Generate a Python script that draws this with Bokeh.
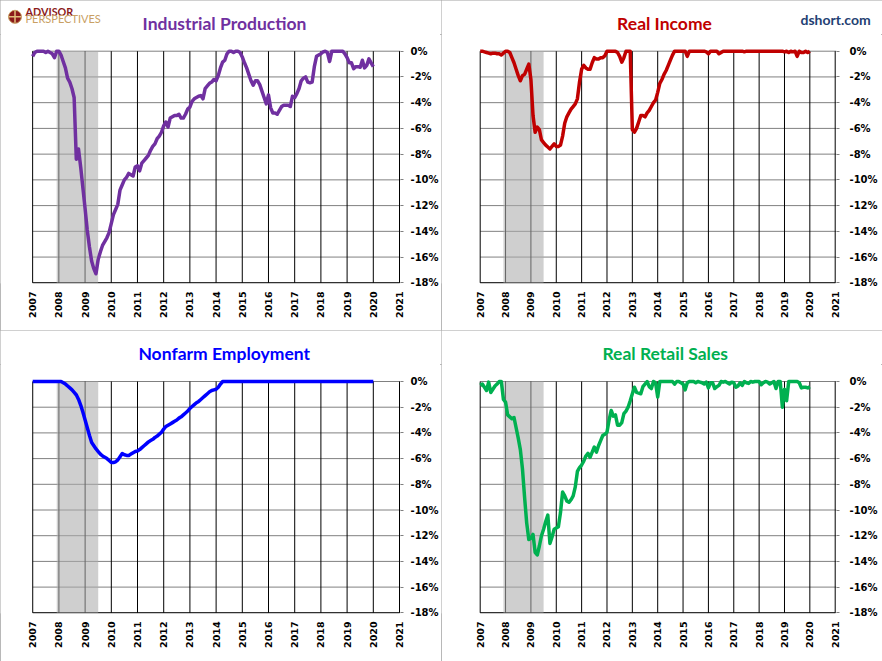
import pandas as pd
from math import pi
from bokeh.plotting import figure
from bokeh.layouts import column, row
from bokeh.models import Range1d, FixedTicker, PrintfTickFormatter
from bokeh.core.properties import value
from bokeh.embed import file_html
from bokeh.resources import INLINE

# ---------------- data (percent off prior peak, monthly Jan 2007 .. Jan 2020) ----------------
months = pd.date_range("2007-01-01", "2020-01-01", freq="MS")
t = list(months.year + (months.month - 1) / 12.0)

industrial_production = [
    -0.4, -0.1, 0.0, 0.0, 0.0, 0.0, -0.1, 0.0, -0.1, -0.2, -0.5, 0.0,
    0.0, -0.3, -0.8, -1.3, -2.1, -2.4, -2.9, -3.6, -8.4, -7.6, -9.0, -10.6,
    -12.2, -13.9, -15.2, -16.3, -16.9, -17.3, -16.2, -15.6, -15.1, -14.8, -14.5, -14.1,
    -13.4, -12.7, -12.3, -11.9, -10.8, -10.4, -10.0, -9.8, -9.5, -9.6, -9.7, -9.0,
    -8.9, -9.3, -8.7, -8.5, -8.3, -8.1, -7.7, -7.4, -7.2, -6.8, -6.6, -6.3,
    -5.8, -5.5, -5.9, -5.2, -5.1, -5.0, -5.0, -4.9, -5.2, -5.2, -4.9, -4.5,
    -4.35, -3.9, -3.7, -3.6, -3.5, -3.45, -3.7, -2.9, -2.7, -2.5, -2.4, -2.2,
    -2.3, -1.9, -1.3, -0.85, -0.7, -0.2, 0.0, 0.0, -0.1, 0.0, 0.0, -0.1,
    -0.45, -0.9, -1.3, -1.8, -2.3, -2.65, -2.3, -2.3, -2.6, -3.1, -3.6, -4.1,
    -3.4, -4.4, -4.8, -4.8, -4.9, -4.6, -4.3, -4.2, -4.2, -4.2, -4.3, -3.5,
    -3.6, -3.3, -2.9, -2.3, -2.1, -2.0, -2.4, -2.45, -2.4, -1.2, -0.4, -0.3,
    -0.2, -0.05, 0.0, -0.1, -0.8, 0.0, 0.0, 0.0, 0.0, 0.0, 0.0, -0.2,
    -0.5, -0.9, -0.9, -1.35, -1.2, -1.2, -1.25, -0.7, -1.3, -1.1, -0.6, -0.9,
    -1.2,
]

real_income = [
    0.0, 0.0, -0.05, -0.1, -0.15, -0.2, -0.15, -0.15, -0.2, -0.2, -0.3, -0.15,
    0.0, 0.0, -0.1, -0.5, -0.9, -1.4, -1.9, -2.3, -1.9, -1.8, -1.4, -1.0,
    -2.2, -5.0, -6.3, -5.9, -6.1, -6.9, -7.1, -7.3, -7.45, -7.6, -7.4, -7.2,
    -7.4, -7.4, -7.3, -6.6, -5.6, -5.1, -4.8, -4.5, -4.3, -4.1, -3.7, -2.4,
    -1.4, -1.1, -1.3, -1.4, -1.4, -0.9, -0.5, -0.6, -0.6, -0.5, -0.5, -0.35,
    0.0, 0.0, 0.0, 0.0, 0.0, -0.1, -0.4, -0.85, -0.5, 0.0, 0.0, 0.0,
    -6.1, -6.3, -6.0, -5.5, -5.0, -5.0, -5.1, -4.8, -4.6, -4.3, -4.0, -3.8,
    -3.2, -2.5, -2.2, -1.8, -1.5, -1.1, -0.7, -0.3, 0.0, 0.0, 0.0, 0.0,
    0.0, 0.0, -0.4, 0.0, 0.0, 0.0, 0.0, 0.0, 0.0, 0.0, 0.0, -0.05,
    -0.2, 0.0, 0.0, 0.0, 0.0, -0.2, -0.1, 0.0, 0.0, 0.0, 0.0, 0.0,
    0.0, 0.0, 0.0, 0.0, 0.0, -0.05, 0.0, 0.0, 0.0, 0.0, 0.0, 0.0,
    0.0, 0.0, 0.0, 0.0, 0.0, 0.0, 0.0, 0.0, 0.0, 0.0, 0.0, 0.0,
    -0.05, 0.0, -0.1, 0.0, -0.05, 0.0, -0.4, 0.0, -0.1, -0.1, 0.0, -0.1,
    0.0,
]

nonfarm_employment = [
    0.0, 0.0, 0.0, 0.0, 0.0, 0.0, 0.0, 0.0, 0.0, 0.0, 0.0, 0.0,
    0.0, 0.0, -0.1, -0.2, -0.35, -0.5, -0.65, -0.85, -1.05, -1.4, -1.85, -2.4,
    -3.0, -3.6, -4.2, -4.75, -5.0, -5.25, -5.45, -5.65, -5.8, -5.9, -6.0, -6.15,
    -6.3, -6.3, -6.25, -6.1, -5.85, -5.6, -5.7, -5.75, -5.75, -5.65, -5.55, -5.45,
    -5.4, -5.3, -5.15, -5.0, -4.85, -4.7, -4.6, -4.5, -4.35, -4.25, -4.1, -3.95,
    -3.7, -3.5, -3.4, -3.3, -3.2, -3.1, -3.0, -2.85, -2.75, -2.6, -2.45, -2.3,
    -2.1, -1.95, -1.8, -1.65, -1.55, -1.4, -1.25, -1.1, -0.95, -0.8, -0.7, -0.65,
    -0.6, -0.45, -0.2, 0.0, 0.0, 0.0, 0.0, 0.0, 0.0, 0.0, 0.0, 0.0,
    0.0, 0.0, 0.0, 0.0, 0.0, 0.0, 0.0, 0.0, 0.0, 0.0, 0.0, 0.0,
    0.0, 0.0, 0.0, 0.0, 0.0, 0.0, 0.0, 0.0, 0.0, 0.0, 0.0, 0.0,
    0.0, 0.0, 0.0, 0.0, 0.0, 0.0, 0.0, 0.0, 0.0, 0.0, 0.0, 0.0,
    0.0, 0.0, 0.0, 0.0, 0.0, 0.0, 0.0, 0.0, 0.0, 0.0, 0.0, 0.0,
    0.0, 0.0, 0.0, 0.0, 0.0, 0.0, 0.0, 0.0, 0.0, 0.0, 0.0, 0.0,
    0.0,
]

real_retail_sales = [
    -0.3, -0.2, -0.45, -0.7, -0.05, -0.85, -0.6, -0.35, -0.2, 0.0, 0.0, -1.4,
    -1.6, -2.6, -2.75, -2.9, -2.8, -3.6, -4.4, -5.3, -6.8, -9.0, -11.0, -12.3,
    -12.2, -11.9, -13.3, -13.5, -12.8, -12.0, -11.5, -10.9, -10.4, -12.6, -12.1, -11.5,
    -11.4, -11.3, -10.2, -8.6, -8.9, -9.3, -9.4, -9.2, -8.9, -8.2, -7.0, -6.7,
    -6.5, -6.2, -5.8, -5.6, -5.9, -5.5, -5.1, -5.5, -5.0, -4.6, -4.2, -4.1,
    -3.95, -3.0, -2.25, -2.7, -2.6, -3.4, -3.4, -3.2, -2.5, -2.3, -2.0, -1.5,
    -0.95, -0.45, -0.85, -0.9, -0.95, -0.4, -0.2, 0.0, -0.4, -0.55, 0.0, -0.1,
    -1.2, 0.0, 0.0, 0.0, 0.0, 0.0, 0.0, 0.0, -0.2, 0.0, 0.0, -0.1,
    -0.2, -0.65, -0.1, 0.0, 0.0, 0.0, -0.1, 0.0, -0.05, -0.1, -0.2, -0.05,
    -0.5, -0.1, -0.1, -0.55, -0.4, -0.3, 0.0, -0.05, 0.0, -0.1, -0.2, -0.05,
    -0.1, -0.45, -0.35, -0.1, -0.3, 0.0, -0.1, -0.15, 0.0, -0.05, 0.0, 0.0,
    0.0, -0.25, -0.1, 0.0, -0.05, -0.2, -0.1, 0.0, -0.55, 0.0, 0.0, -2.0,
    -0.6, -1.5, 0.0, 0.0, 0.0, 0.0, 0.0, -0.1, -0.5, -0.45, -0.45, -0.5,
    -0.4,
]

year_ticks = list(range(2007, 2022))
pct_ticks = list(range(0, -20, -2))
recession_start = [2007 + 11 / 12.0]   # Dec 2007
recession_end = [2009.5]               # end of Jun 2009

titles = ["Industrial Production", "Real Income", "Nonfarm Employment", "Real Retail Sales"]
colors = ["#7030A0", "#C00000", "#0000FF", "#00B050"]

TICK_FONT = "DejaVu Sans"
TITLE_FONT = "Lato"
X_FIRST, X_LAST = year_ticks[0], year_ticks[-1]
Y_TOP, Y_BOTTOM = max(pct_ticks), min(pct_ticks)
PANEL_W = 441
HEADER_H = 34
TEXT_LIFT = 5.8   # the text glyph sits its baseline this much lower than asked


def no_frame_align(fig):
    try:
        fig.frame_align = False
    except Exception:
        pass


def header_text(h, x, base, txt, color, size, style="bold", align="left", font=TITLE_FONT):
    h.text(x=[x], y=[base - TEXT_LIFT], text=[txt], text_color=color,
           text_font=value(font), text_font_style=style, text_font_size=size,
           text_align=align, text_baseline="alphabetic")


def make_header(name, color, title_cx, title_base):
    """Strip above each chart; its frame is the whole strip, in pixel units."""
    h = figure(width=PANEL_W, height=HEADER_H, output_backend="svg", toolbar_location=None,
               tools="", title=None, x_range=Range1d(0, PANEL_W), y_range=Range1d(HEADER_H, 0),
               x_axis_location=None, y_axis_location=None,
               min_border_left=0, min_border_right=0, min_border_top=0, min_border_bottom=0)
    no_frame_align(h)
    h.outline_line_color = None
    h.background_fill_color = "white"
    h.border_fill_color = "white"
    h.grid.visible = False
    header_text(h, title_cx, title_base, name, color, "17.5px", align="center")
    return h


def make_panel(color, vals, h, px_first, px_last, py_top, py_bottom, standoff):
    """Frame covers the canvas from its top-left corner; the axes sit right and below."""
    w = PANEL_W
    sx = (px_last - px_first) / (X_LAST - X_FIRST)
    sy = (py_bottom - py_top) / (Y_TOP - Y_BOTTOM)
    fw = int(round(px_last + 1))
    fh = int(round(py_bottom + 1))
    x_start = X_FIRST - px_first / sx
    x_end = x_start + fw / sx
    y_end = Y_TOP + py_top / sy
    y_start = y_end - fh / sy

    p = figure(width=w, height=h, output_backend="svg", toolbar_location=None,
               tools="", title=None,
               x_range=Range1d(x_start, x_end), y_range=Range1d(y_start, y_end),
               y_axis_location="right",
               min_border_left=0, min_border_top=0,
               min_border_right=w - fw, min_border_bottom=h - fh)
    no_frame_align(p)
    p.outline_line_color = None
    p.background_fill_color = "white"
    p.border_fill_color = "white"
    p.xgrid.visible = False
    p.ygrid.visible = False

    xa = p.xaxis[0]
    ya = p.yaxis[0]
    xa.ticker = FixedTicker(ticks=year_ticks)
    ya.ticker = FixedTicker(ticks=pct_ticks)
    xa.formatter = PrintfTickFormatter(format="%d")
    ya.formatter = PrintfTickFormatter(format="%d%%")

    xa.axis_line_color = None
    xa.major_tick_line_color = None
    xa.major_tick_out = 0
    xa.major_tick_in = 0
    xa.minor_tick_line_color = None
    xa.major_label_orientation = pi / 2
    xa.major_label_standoff = 8
    xa.major_label_text_font = TICK_FONT
    xa.major_label_text_font_style = "bold"
    xa.major_label_text_font_size = "9.5px"
    xa.major_label_text_color = "black"

    ya.axis_line_color = None
    ya.major_tick_line_color = "#808080"
    ya.major_tick_out = 3
    ya.major_tick_in = 0
    ya.minor_tick_line_color = None
    ya.major_label_standoff = standoff
    ya.major_label_text_font = TICK_FONT
    ya.major_label_text_font_style = "bold"
    ya.major_label_text_font_size = "10px"
    ya.major_label_text_color = "black"

    # horizontal grid (gray), year lines (black), bottom axis line (black)
    n_y = len(pct_ticks)
    p.segment(x0=[X_FIRST] * n_y, x1=[x_end] * n_y, y0=pct_ticks, y1=pct_ticks,
              line_color="#808080", line_width=1)
    n_x = len(year_ticks)
    p.segment(x0=year_ticks, x1=year_ticks, y0=[Y_BOTTOM] * n_x, y1=[Y_TOP] * n_x,
              line_color="black", line_width=1)
    p.segment(x0=[X_FIRST], x1=[X_LAST], y0=[Y_BOTTOM], y1=[Y_BOTTOM],
              line_color="black", line_width=1)

    # recession shading, then the series
    p.quad(left=recession_start, right=recession_end, bottom=[Y_BOTTOM], top=[Y_TOP],
           fill_color="#adadad", fill_alpha=0.58, line_color=None)
    p.line(t, vals, line_color=color, line_width=3.5, line_join="round")
    return p


BORDER = {"outline": "1px solid #a0a0a0", "outline-offset": "-1px"}

h1 = make_header(titles[0], colors[0], 224, 28.3)
h2 = make_header(titles[1], colors[1], 223, 28.3)
h3 = make_header(titles[2], colors[2], 223.7, 28.3)
h4 = make_header(titles[3], colors[3], 223.7, 28.3)

m1 = make_panel(colors[0], industrial_production, 330 - HEADER_H, 32.3, 401.0, 50.7 - HEADER_H, 282.3 - HEADER_H, 7)
m2 = make_panel(colors[1], real_income, 330 - HEADER_H, 38.7, 393.7, 50.7 - HEADER_H, 282.3 - HEADER_H, 10)
m3 = make_panel(colors[2], nonfarm_employment, 331 - HEADER_H, 32.3, 400.0, 51.0 - HEADER_H, 282.3 - HEADER_H, 7)
m4 = make_panel(colors[3], real_retail_sales, 331 - HEADER_H, 38.7, 393.7, 51.0 - HEADER_H, 282.3 - HEADER_H, 10)

# Advisor Perspectives logo (top-left header, pixel units)
h1.scatter(x=[14.5], y=[16.3], marker="circle", size=13,
           fill_color="#8B1A1A", line_color="#C9A063", line_width=1)
h1.scatter(x=[14.5], y=[16.3], marker="cross", size=12,
           line_color="#E0BE7A", line_width=1.5)
header_text(h1, 25, 16.7, "ADVISOR", "#8B1A1A", "10.8px")
header_text(h1, 25, 24.0, "PERSPECTIVES", "#C9A063", "11px", style="normal")

# dshort.com (top-right header)
header_text(h2, 359, 24.5, "dshort.com", "#243F73", "14px")

c1 = column(h1, m1, styles=BORDER)
c2 = column(h2, m2, styles=BORDER)
c3 = column(h3, m3, styles=BORDER)
c4 = column(h4, m4, styles=BORDER)

layout = column(row(c1, c2), row(c3, c4))
open("out.html", "w").write(file_html(layout, INLINE))
